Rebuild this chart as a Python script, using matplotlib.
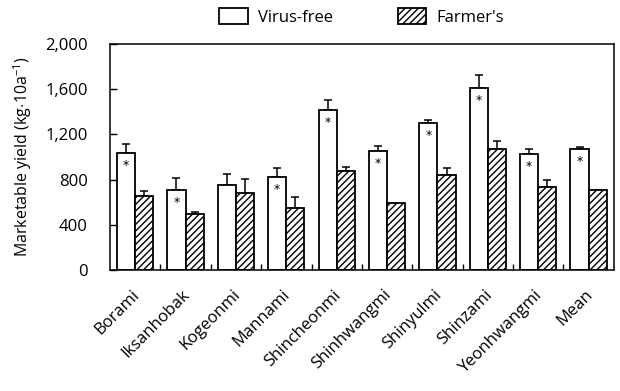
import numpy as np
import matplotlib.pyplot as plt

plt.rcParams['font.family'] = ['Open Sans', 'DejaVu Sans']
plt.rcParams['hatch.linewidth'] = 1.0
plt.rcParams['mathtext.fontset'] = 'custom'
plt.rcParams['mathtext.rm'] = 'Open Sans'
plt.rcParams['mathtext.it'] = 'Open Sans'

cultivars = ['Borami', 'Iksanhobak', 'Kogeonmi', 'Mannami', 'Shincheonmi',
             'Shinhwangmi', 'Shinyulmi', 'Shinzami', 'Yeonhwangmi', 'Mean']
virus_free = [1033, 705, 749, 820, 1416, 1053, 1301, 1611, 1024, 1074]
virus_free_se = [82, 106, 101, 83, 88, 44, 24, 118, 44, 14]
farmers = [655, 493, 678, 552, 876, 593, 841, 1068, 735, 711]
farmers_se = [47, 17, 127, 91, 36, np.nan, 65, 71, 61, np.nan]
significant = [True, True, False, True, True, True, True, True, True, True]

x = np.arange(len(cultivars))
w = 0.36

fig = plt.figure(figsize=(6.2, 3.91), dpi=100)
ax = fig.add_axes([0.1774, 0.3095, 0.8126, 0.578])

b1 = ax.bar(x - w / 2, virus_free, w, color='white', edgecolor='black',
            linewidth=1.3, label='Virus-free', zorder=2)
b2 = ax.bar(x + w / 2, farmers, w, color='white', edgecolor='black',
            linewidth=1.3, hatch='/////', label="Farmer's", zorder=2)

ax.errorbar(x - w / 2, virus_free, yerr=[np.zeros(len(x)), virus_free_se],
            fmt='none', ecolor='black', elinewidth=1.1, capsize=3.2, capthick=1.1, zorder=1)
ax.errorbar(x + w / 2, farmers, yerr=[np.zeros(len(x)), farmers_se],
            fmt='none', ecolor='black', elinewidth=1.1, capsize=3.2, capthick=1.1, zorder=1)

for xi, v, s in zip(x, virus_free, significant):
    if s:
        ax.annotate('*', (xi - w / 2, v), xytext=(0, -9), textcoords='offset points',
                    ha='center', va='center', fontsize=9, family='DejaVu Sans')

ax.set_xlim(-0.5, len(x) - 0.5)
ax.set_ylim(0, 2000)
ax.set_yticks(np.arange(0, 2001, 400))
ax.set_yticklabels([f'{v:,}' for v in range(0, 2001, 400)], fontsize=12)
ax.tick_params(axis='y', direction='in', length=5, width=1, pad=16)

ax.set_xticks(x[:-1] + 0.5)
ax.set_xticklabels([])
ax.tick_params(axis='x', direction='in', length=4, width=1)
for xi, name in zip(x, cultivars):
    ax.text(xi - 0.08, -150, name, rotation=45, ha='right', va='top',
            rotation_mode='anchor', fontsize=12)

for sp in ax.spines.values():
    sp.set_linewidth(1.1)

ax.set_ylabel(r'Marketable yield (kg$\cdot$10a$^{-1}$)', fontsize=11.5, labelpad=8)

fig.legend(handles=[b1, b2], loc='center', bbox_to_anchor=(0.583, 0.957),
           ncol=2, frameon=False, fontsize=12, handlelength=1.7,
           handleheight=1.15, columnspacing=3.9, handletextpad=0.6)

fig.savefig('out.png', dpi=100)
